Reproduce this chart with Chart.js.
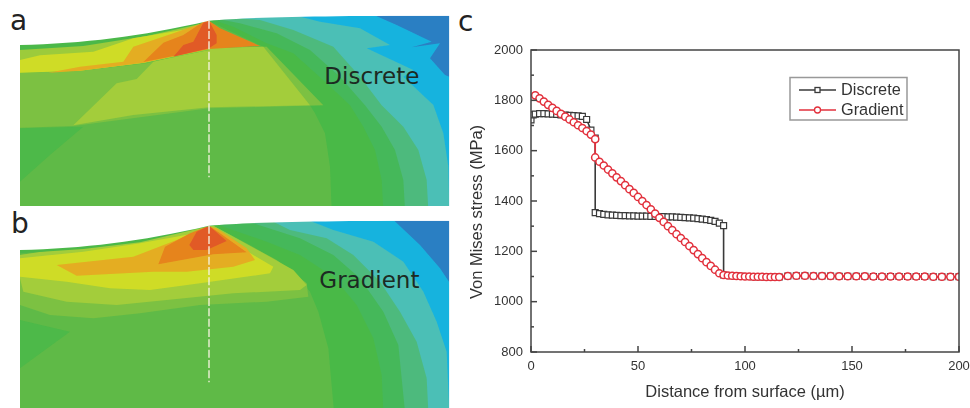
<!DOCTYPE html>
<html>
<head>
<meta charset="utf-8">
<script src="https://cdn.jsdelivr.net/npm/chart.js@4"></script>
<style>
  html, body { margin: 0; padding: 0; background: #fff; }
  #wrap { position: relative; width: 970px; height: 408px; overflow: hidden; }
  #grafico { position: absolute; left: 0; top: 0; }
  svg.panel { position: absolute; left: 0; }
  .letra { position: absolute; font-family: "DejaVu Sans", sans-serif; font-size: 28px; color: #222; line-height: 1; }
  svg text { font-family: "DejaVu Sans", sans-serif; fill: #1c2a22; font-size: 69px; }
</style>
</head>
<body>
<div id="wrap">
  <!-- painel a (coordenadas em escala 3x) -->
  <svg class="panel" style="top:0" width="460" height="210" viewBox="0 0 1380 630">
    <defs>
      <clipPath id="formaA"><path d="M60 135 C250 130 420 110 627 62 C760 50 1000 47 1348 47 L1348 618 L60 618 Z"/></clipPath>
      <filter id="suave"><feGaussianBlur stdDeviation="1.5"/></filter>
    </defs>
    <g clip-path="url(#formaA)"><g filter="url(#suave)">
      <rect x="0" y="0" width="1380" height="630" fill="#19b3de"/>
      <polygon fill="#2b7fc3" points="1110,40 1360,40 1360,235 1335,225 1290,175 1320,130 1235,142 1295,125 1190,75"/>
      <polygon fill="#4bbfb6" points="860,40 960,65 1080,85 1170,135 1100,145 1240,210 1210,230 1300,315 1330,400 1345,500 1348,630 0,630 0,40"/>
      <polygon fill="#4eba7d" points="640,50 780,60 880,90 1000,140 1080,230 1145,316 1210,380 1255,450 1280,540 1285,630 0,630 0,40"/>
      <polygon fill="#45b85a" points="640,55 720,70 830,100 930,150 1020,230 1095,316 1145,380 1185,450 1210,540 1215,630 0,630 0,40"/>
      <polygon fill="#49b947" points="640,60 700,80 800,130 880,160 980,250 1050,316 1090,380 1125,450 1145,540 1150,630 0,630 0,40"/>
      <polygon fill="#5fba47" points="640,70 790,140 930,316 945,340 975,400 990,500 995,630 0,630 0,218 627,145"/>
      <polygon fill="#4db948" points="60,385 250,380 150,465 60,545"/>
      <polygon fill="#7cc142" points="60,218 240,212 440,190 627,145 800,140 970,316 627,325 220,378 60,383"/>
      <polygon fill="#a3cd3a" points="220,376 350,250 410,237 460,185 627,145 790,140 930,316 627,322 400,345"/>
      <polygon fill="#4cb848" points="60,130 627,55 627,150 430,190 240,212 60,218"/>
      <polygon fill="#9ccb3b" points="60,150 250,138 440,108 627,66 627,150 430,190 240,212 60,218"/>
      <polygon fill="#cfdc26" points="60,218 60,180 120,166 280,155 400,115 560,88 627,68 627,146 430,188 240,212"/>
      <polygon fill="#e4ad22" points="145,218 240,200 370,185 400,140 520,100 600,72 627,65 627,146 430,188 240,212"/>
      <polygon fill="#e6841f" points="430,186 490,128 550,105 610,65 627,62 660,85 780,138 627,147"/>
      <polygon fill="#e15a27" points="520,170 550,135 580,125 610,68 627,62 650,105 650,130 627,145"/>
    </g></g>
    <line x1="627" y1="62" x2="627" y2="532" stroke="#f6f4e0" stroke-width="4" stroke-dasharray="24 7"/>
    <text x="973" y="252">Discrete</text>
  </svg>
  <!-- painel b -->
  <svg class="panel" style="top:205px" width="460" height="203" viewBox="0 0 1380 609">
    <defs>
      <clipPath id="formaB"><path d="M60 135 C250 130 420 110 627 62 C760 50 1000 47 1348 47 L1348 620 L60 620 Z"/></clipPath>
    </defs>
    <g clip-path="url(#formaB)"><g filter="url(#suave)">
      <rect x="0" y="0" width="1380" height="620" fill="#19b3de"/>
      <polygon fill="#2b7fc3" points="1175,40 1360,40 1360,250 1320,190 1260,120"/>
      <polygon fill="#4bbfb6" points="910,40 1000,75 1120,110 1210,170 1270,260 1310,350 1340,440 1348,620 0,620 0,40"/>
      <polygon fill="#4eba7d" points="820,50 870,75 980,100 1060,150 1140,230 1200,320 1250,410 1280,520 1285,620 0,620 0,40"/>
      <polygon fill="#45b85a" points="760,55 900,100 1000,150 1080,220 1150,320 1195,420 1215,620 0,620 0,40"/>
      <polygon fill="#49b947" points="640,55 800,110 900,150 1000,215 1070,300 1120,400 1145,510 1150,620 0,620 0,40"/>
      <polygon fill="#5fba47" points="640,62 760,125 880,200 930,260 955,320 985,430 1002,620 0,620 0,130"/>
      <polygon fill="#4db948" points="60,345 210,380 60,490"/>
      <polygon fill="#7cc142" points="60,150 640,62 830,165 920,235 925,275 800,290 600,300 420,325 280,340 150,330 60,300"/>
      <polygon fill="#a3cd3a" points="60,150 640,62 800,150 880,195 920,240 900,255 700,265 500,285 350,300 200,290 70,260 60,220"/>
      <polygon fill="#cfdc26" points="60,160 250,140 420,115 640,75 760,150 820,185 810,205 600,235 450,255 330,250 200,230 60,215"/>
      <polygon fill="#e4ad22" points="170,180 400,155 530,105 627,65 650,70 740,130 765,165 700,185 560,200 460,200 230,212"/>
      <polygon fill="#e6841f" points="475,178 495,125 570,85 627,62 660,85 740,142 640,148"/>
      <polygon fill="#e15a27" points="568,120 590,80 627,62 680,108 620,135 580,135"/>
      <polygon fill="#4cb848" points="60,130 250,120 627,55 627,64 420,112 250,132 60,145"/>
    </g></g>
    <line x1="627" y1="62" x2="627" y2="532" stroke="#f6f4e0" stroke-width="4" stroke-dasharray="24 7"/>
    <text x="958" y="250">Gradient</text>
  </svg>
  <div class="letra" style="left:10px;top:7px">a</div>
  <div class="letra" style="left:11px;top:210px">b</div>
  <div class="letra" style="left:458px;top:8px">c</div>
  <canvas id="grafico" width="970" height="408"></canvas>
</div>
<script>
// Valores
const discreteX = [0,1,2,4,6,8,10,12,14,16,18,20,22,24,26,28,30,30,32,34,36,38,40,42,44,46,48,50,52,54,56,58,60,62,64,66,68,70,72,74,76,78,80,82,84,86,88,90,90,92,94,96,98,100,102,104,106,108,110,112,114,116,120,124,128,132,136,140,144,148,152,156,160,164,168,172,176,180,184,188,192,196,200];
const discreteY = [1722,1742,1745,1747,1747,1746,1745,1744,1742,1741,1740,1739,1738,1736,1724,1682,1650,1354,1350,1347,1345,1344,1343,1342,1342,1341,1341,1340,1340,1340,1339,1339,1338,1338,1337,1337,1336,1335,1334,1333,1332,1330,1328,1326,1323,1319,1312,1302,1106,1104,1103,1102,1101,1100,1100,1099,1099,1099,1098,1098,1098,1098,1102,1103,1103,1102,1102,1102,1101,1101,1101,1101,1100,1100,1100,1100,1100,1100,1100,1099,1099,1099,1099];
const gradientX = [2,4,6,8,10,12,14,16,18,20,22,24,26,28,30,30,32,34,36,38,40,42,44,46,48,50,52,54,56,58,60,62,64,66,68,70,72,74,76,78,80,82,84,86,88,90,92,94,96,98,100,102,104,106,108,110,112,114,116,120,124,128,132,136,140,144,148,152,156,160,164,168,172,176,180,184,188,192,196,200];
const gradientY = [1820,1808,1795,1782,1770,1758,1746,1735,1724,1713,1701,1690,1678,1664,1646,1573,1556,1541,1525,1510,1494,1479,1463,1447,1432,1416,1400,1384,1367,1350,1333,1317,1300,1284,1268,1253,1237,1221,1205,1189,1173,1157,1142,1127,1113,1106,1104,1103,1102,1101,1100,1100,1099,1099,1099,1098,1098,1098,1098,1102,1103,1103,1102,1102,1102,1101,1101,1101,1101,1100,1100,1100,1100,1100,1100,1100,1099,1099,1099,1099];
const xTickLabels = [0,50,100,150,200];
const yTickLabels = [800,1000,1200,1400,1600,1800,2000];

const corTexto = '#333';
const corEixo = '#444';
const fonte = '"Liberation Sans", Arial, sans-serif';

// Moldura e ticks para dentro, como no original
const molduraPlugin = {
    id: 'moldura',
    afterDatasetsDraw(chart) {
        const { ctx, chartArea: a, scales } = chart;
        ctx.save();
        ctx.strokeStyle = corEixo;
        ctx.lineWidth = 1.5;
        ctx.strokeRect(a.left, a.top, a.right - a.left, a.bottom - a.top);
        scales.x.ticks.forEach(t => {
            const px = scales.x.getPixelForValue(t.value);
            const tam = xTickLabels.includes(t.value) ? 6 : 3;
            ctx.beginPath();
            ctx.moveTo(px, a.bottom);
            ctx.lineTo(px, a.bottom - tam);
            ctx.stroke();
        });
        scales.y.ticks.forEach(t => {
            const py = scales.y.getPixelForValue(t.value);
            const tam = yTickLabels.includes(t.value) ? 6 : 3;
            ctx.beginPath();
            ctx.moveTo(a.left, py);
            ctx.lineTo(a.left + tam, py);
            ctx.stroke();
        });
        // título do eixo y fica um pouco abaixo do centro no original
        ctx.translate(477, 212);
        ctx.rotate(-Math.PI / 2);
        ctx.fillStyle = corTexto;
        ctx.font = '16.5px ' + fonte;
        ctx.textAlign = 'center';
        ctx.textBaseline = 'middle';
        ctx.fillText('Von Mises stress (MPa)', 0, 0);
        ctx.restore();
    }
};

// Legenda dentro da área do gráfico, com linha + marcador
const legendaPlugin = {
    id: 'legendaInterna',
    afterDraw(chart) {
        const { ctx } = chart;
        ctx.save();
        ctx.strokeStyle = '#999';
        ctx.lineWidth = 1.5;
        ctx.strokeRect(790, 77.5, 117, 42.5);
        ctx.font = '16.3px ' + fonte;
        ctx.textBaseline = 'middle';
        chart.data.datasets.forEach((ds, i) => {
            const y = 90 + i * 20;
            ctx.strokeStyle = ds.borderColor;
            ctx.lineWidth = ds.borderWidth;
            ctx.beginPath();
            ctx.moveTo(799, y);
            ctx.lineTo(836, y);
            ctx.stroke();
            ctx.fillStyle = '#fff';
            ctx.lineWidth = 1.3;
            if (ds.pointStyle === 'rect') {
                ctx.fillRect(815, y - 2.5, 5, 5);
                ctx.strokeRect(815, y - 2.5, 5, 5);
            } else {
                ctx.beginPath();
                ctx.arc(817.5, y, 3, 0, Math.PI * 2);
                ctx.fill();
                ctx.stroke();
            }
            ctx.fillStyle = corTexto;
            ctx.fillText(ds.label, 841, y + 0.5);
        });
        ctx.restore();
    }
};

new Chart(document.getElementById('grafico'), {
    type: 'scatter',
    data: {
        datasets: [
            {
                label: 'Discrete',
                data: discreteX.map((x, i) => ({ x, y: discreteY[i] })),
                showLine: true,
                order: 2,
                borderColor: '#3a3a3a',
                borderWidth: 1.6,
                backgroundColor: '#fff',
                pointStyle: 'rect',
                pointRadius: 4.2,
                pointBorderWidth: 1.2
            },
            {
                label: 'Gradient',
                data: gradientX.map((x, i) => ({ x, y: gradientY[i] })),
                showLine: true,
                order: 1,
                borderColor: '#e2303c',
                borderWidth: 1.7,
                backgroundColor: '#fff',
                pointStyle: 'circle',
                pointRadius: 3.6,
                pointBorderWidth: 1.5
            }
        ]
    },
    options: {
        responsive: false,
        animation: false,
        layout: { padding: { left: 469, top: 50, right: 11, bottom: 4 } },
        plugins: { legend: { display: false }, tooltip: { enabled: false } },
        scales: {
            x: {
                type: 'linear',
                min: 0,
                max: 200,
                afterFit: s => { s.height = 52; s.paddingLeft = 0; s.paddingRight = 0; },
                grid: { display: false, drawTicks: false },
                border: { display: false },
                ticks: {
                    stepSize: 25,
                    maxRotation: 0,
                    autoSkip: false,
                    padding: 7,
                    color: corTexto,
                    font: { family: fonte, size: 13 },
                    callback: v => xTickLabels.includes(v) ? v : ''
                },
                title: {
                    display: true,
                    text: 'Distance from surface (µm)',
                    color: corTexto,
                    font: { family: fonte, size: 16.5 },
                    padding: { top: 0, bottom: 2 }
                }
            },
            y: {
                min: 800,
                max: 2000,
                afterFit: s => { s.width = 62; },
                grid: { display: false, drawTicks: false },
                border: { display: false },
                ticks: {
                    stepSize: 100,
                    autoSkip: false,
                    padding: 8,
                    color: corTexto,
                    font: { family: fonte, size: 13 },
                    callback: v => yTickLabels.includes(v) ? v : ''
                }
            }
        }
    },
    plugins: [molduraPlugin, legendaPlugin]
});
</script>
</body>
</html>
